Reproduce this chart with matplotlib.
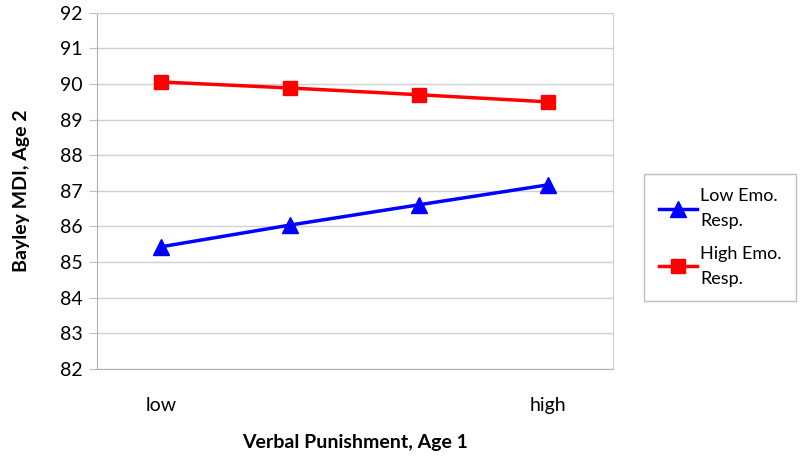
import matplotlib
matplotlib.use("Agg")
import matplotlib.pyplot as plt

plt.rcParams['font.family'] = ['Lato', 'DejaVu Sans']

cats = ['low', '', '', 'high']
low_emo = [85.43, 86.04, 86.61, 87.17]
high_emo = [90.06, 89.89, 89.70, 89.50]
labels = ['Low Emo.\nResp.', 'High Emo.\nResp.']

fig = plt.figure(figsize=(8, 4.61), dpi=100)
ax = fig.add_axes([0.121, 0.2, 0.645, 0.772])

x = [0, 1, 2, 3]
ax.plot(x, low_emo, color='#0000ff', lw=2.5, marker='^', markersize=11, label=labels[0])
ax.plot(x, high_emo, color='#ff0000', lw=2.5, marker='s', markersize=10, label=labels[1])

ax.set_xlim(-0.5, 3.5)
ax.set_ylim(82, 92)
ax.set_yticks(range(82, 93))
ax.set_xticks(x)
ax.set_xticklabels(cats, fontsize=14)
ax.tick_params(axis='y', labelsize=14, length=6, color='#c0c0c0', pad=4)
ax.tick_params(axis='x', length=0, pad=20)
ax.grid(axis='y', color='#d0d0d0', lw=1)
ax.set_axisbelow(True)
for s in ['left', 'bottom']:
    ax.spines[s].set_color('#b0b0b0')
for s in ['top', 'right']:
    ax.spines[s].set_color('#d0d0d0')

ax.set_xlabel('Verbal Punishment, Age 1', fontsize=14, fontweight='bold', labelpad=15)
ax.set_ylabel('Bayley MDI, Age 2', fontsize=14, fontweight='bold', labelpad=22)

leg = fig.legend(loc='center left', bbox_to_anchor=(0.794, 0.485), fontsize=13,
                 frameon=True, fancybox=False, edgecolor='#b0b0b0',
                 handlelength=2.1, handletextpad=0.2, labelspacing=0.9, borderpad=0.8)
for t in leg.get_texts():
    t.set_linespacing(1.7)
leg.get_frame().set_linewidth(1)

fig.savefig('out.png', dpi=100)
